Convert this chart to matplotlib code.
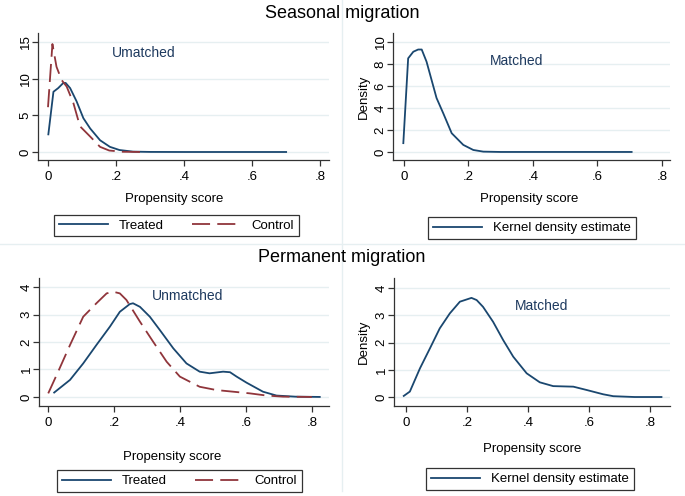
import matplotlib
matplotlib.use('Agg')
import matplotlib.pyplot as plt
from matplotlib.lines import Line2D

plt.rcParams['font.family'] = ['Liberation Sans', 'DejaVu Sans']

# Seasonal migration, unmatched
sea_treat_x = [0.001, 0.016, 0.030, 0.045, 0.052, 0.065, 0.084, 0.104, 0.124, 0.153, 0.182, 0.21, 0.25, 0.30, 0.40, 0.50, 0.60, 0.70]
sea_treat_y = [2.4, 8.2, 8.7, 9.4, 9.4, 8.7, 6.9, 4.6, 3.2, 1.6, 0.7, 0.27, 0.05, 0.01, 0.0, 0.0, 0.0, 0.0]
sea_ctrl_x = [0.0, 0.013, 0.025, 0.040, 0.055, 0.075, 0.094, 0.124, 0.153, 0.18, 0.22, 0.28]
sea_ctrl_y = [6.1, 14.7, 11.6, 9.8, 8.9, 6.6, 3.5, 2.1, 0.7, 0.2, 0.03, 0.0]

# Seasonal migration, matched
sea_match_x = [-0.002, 0.013, 0.029, 0.044, 0.055, 0.07, 0.101, 0.122, 0.148, 0.184, 0.215, 0.246, 0.30, 0.40, 0.50, 0.60, 0.706]
sea_match_y = [0.8, 8.5, 9.1, 9.3, 9.3, 8.2, 4.9, 3.5, 1.7, 0.64, 0.18, 0.03, 0.0, 0.0, 0.0, 0.0, 0.0]

# Permanent migration, unmatched
per_treat_x = [0.019, 0.067, 0.107, 0.147, 0.188, 0.218, 0.248, 0.258, 0.279, 0.309, 0.339, 0.38, 0.42, 0.46, 0.49, 0.531, 0.552, 0.572, 0.602, 0.652, 0.693, 0.75, 0.824]
per_treat_y = [0.16, 0.62, 1.22, 1.89, 2.56, 3.1, 3.38, 3.41, 3.28, 2.92, 2.44, 1.77, 1.22, 0.92, 0.86, 0.92, 0.9, 0.74, 0.52, 0.19, 0.05, 0.01, 0.0]
per_ctrl_x = [0.001, 0.031, 0.067, 0.107, 0.147, 0.178, 0.198, 0.218, 0.238, 0.279, 0.319, 0.36, 0.40, 0.46, 0.511, 0.562, 0.612, 0.663, 0.713, 0.80]
per_ctrl_y = [0.13, 0.92, 1.89, 2.92, 3.41, 3.77, 3.83, 3.77, 3.53, 2.74, 2.01, 1.28, 0.74, 0.37, 0.25, 0.19, 0.13, 0.05, 0.01, 0.0]

# Permanent migration, matched
per_match_x = [-0.007, 0.013, 0.046, 0.079, 0.111, 0.144, 0.177, 0.215, 0.232, 0.253, 0.286, 0.319, 0.352, 0.396, 0.439, 0.483, 0.549, 0.592, 0.647, 0.68, 0.75, 0.838]
per_match_y = [0.04, 0.2, 1.05, 1.79, 2.52, 3.07, 3.5, 3.64, 3.56, 3.31, 2.76, 2.09, 1.48, 0.87, 0.54, 0.40, 0.38, 0.26, 0.1, 0.03, 0.0, 0.0]

x_ticks = [0, 0.2, 0.4, 0.6, 0.8]
x_labels = ['0', '.2', '.4', '.6', '.8']

NAVY = '#1a476f'
MAROON = '#90353b'
GRID = '#e6eff1'
TXT = '#1e3a5f'
W, H = 685, 496

fig = plt.figure(figsize=(6.85, 4.96), dpi=100)


def add_ax(l, r, t, b):
    return fig.add_axes([l / W, 1 - b / H, (r - l) / W, (b - t) / H])


def style(ax, xlim, ylim, yticks):
    ax.set_xlim(*xlim)
    ax.set_ylim(*ylim)
    ax.set_xticks(x_ticks)
    ax.set_xticklabels(x_labels)
    ax.set_yticks(yticks)
    ax.set_yticklabels([str(v) for v in yticks], rotation=90, va='center')
    for s in ['top', 'right']:
        ax.spines[s].set_visible(False)
    for s in ['left', 'bottom']:
        ax.spines[s].set_color('#333333')
        ax.spines[s].set_linewidth(0.9)
    ax.tick_params(direction='out', length=4, width=0.9, colors='#333333', labelsize=9.5, labelcolor='black')
    ax.tick_params(axis='x', pad=4)
    ax.tick_params(axis='y', pad=0.5)
    ax.grid(axis='y', color=GRID, lw=1.0)
    ax.set_axisbelow(True)


dash = (10, 4)

# top left
ax1 = add_ax(38, 329, 33, 160)
ax1.plot(sea_treat_x, sea_treat_y, color=NAVY, lw=1.3)
ax1.plot(sea_ctrl_x, sea_ctrl_y, color=MAROON, lw=1.3, dashes=dash)
style(ax1, (-0.0294, 0.826), (-1.09, 16.2), [0, 5, 10, 15])
ax1.text(0.28, 13.5, 'Umatched', color=TXT, fontsize=10, ha='center', va='center')

# top right
ax2 = add_ax(393, 670, 33, 160)
ax2.plot(sea_match_x, sea_match_y, color=NAVY, lw=1.3)
style(ax2, (-0.034, 0.825), (-0.73, 10.8), [0, 2, 4, 6, 8, 10])
ax2.text(0.35, 8.3, 'Matched', color=TXT, fontsize=10, ha='center', va='center')

# bottom left
ax3 = add_ax(39, 329, 278, 406)
ax3.plot(per_treat_x, per_treat_y, color=NAVY, lw=1.3)
ax3.plot(per_ctrl_x, per_ctrl_y, color=MAROON, lw=1.3, dashes=dash)
style(ax3, (-0.027, 0.852), (-0.33, 4.33), [0, 1, 2, 3, 4])
ax3.text(0.424, 3.67, 'Unmatched', color=TXT, fontsize=10, ha='center', va='center')

# bottom right
ax4 = add_ax(394, 670, 278, 406)
ax4.plot(per_match_x, per_match_y, color=NAVY, lw=1.3)
style(ax4, (-0.039, 0.866), (-0.33, 4.37), [0, 1, 2, 3, 4])
ax4.text(0.446, 3.34, 'Matched', color=TXT, fontsize=10, ha='center', va='center')

# titles, axis labels
fig.text(342 / W, 1 - 14 / H, 'Seasonal migration', fontsize=13, ha='center', va='center')
fig.text(342 / W, 1 - 257 / H, 'Permanent migration', fontsize=13, ha='center', va='center')
for x, y in [(174, 199), (529, 199), (172, 457), (532, 449)]:
    fig.text(x / W, 1 - y / H, 'Propensity score', fontsize=9.5, ha='center', va='center')
for y in [97, 342]:
    fig.text(364 / W, 1 - y / H, 'Density', fontsize=9.5, rotation=90, ha='center', va='center')

# faint panel separators
fig.add_artist(Line2D([0, 1], [1 - 244 / H] * 2, color=GRID, lw=1))
fig.add_artist(Line2D([342 / W] * 2, [0.01, 1], color=GRID, lw=1))

# legends
h_treat = Line2D([], [], color=NAVY, lw=1.3)
h_ctrl = Line2D([], [], color=MAROON, lw=1.3, dashes=dash)
leg_kw = dict(loc='center', fontsize=9.5, fancybox=False, edgecolor='#333333', framealpha=1,
              borderpad=0.35, handlelength=3.7, handletextpad=0.85, columnspacing=2.1, borderaxespad=0)
for cx, cy in [(176.5, 225.5), (179.5, 481)]:
    lg = fig.legend([h_treat, h_ctrl], ['Treated', 'Control'], ncol=2,
                    bbox_to_anchor=(cx / W, 1 - cy / H), **leg_kw)
    lg.get_frame().set_linewidth(0.9)
for cx, cy in [(532, 228), (530, 479)]:
    lg = fig.legend([h_treat], ['Kernel density estimate'],
                    bbox_to_anchor=(cx / W, 1 - cy / H), **leg_kw)
    lg.get_frame().set_linewidth(0.9)

plt.savefig('out.png', dpi=100)
